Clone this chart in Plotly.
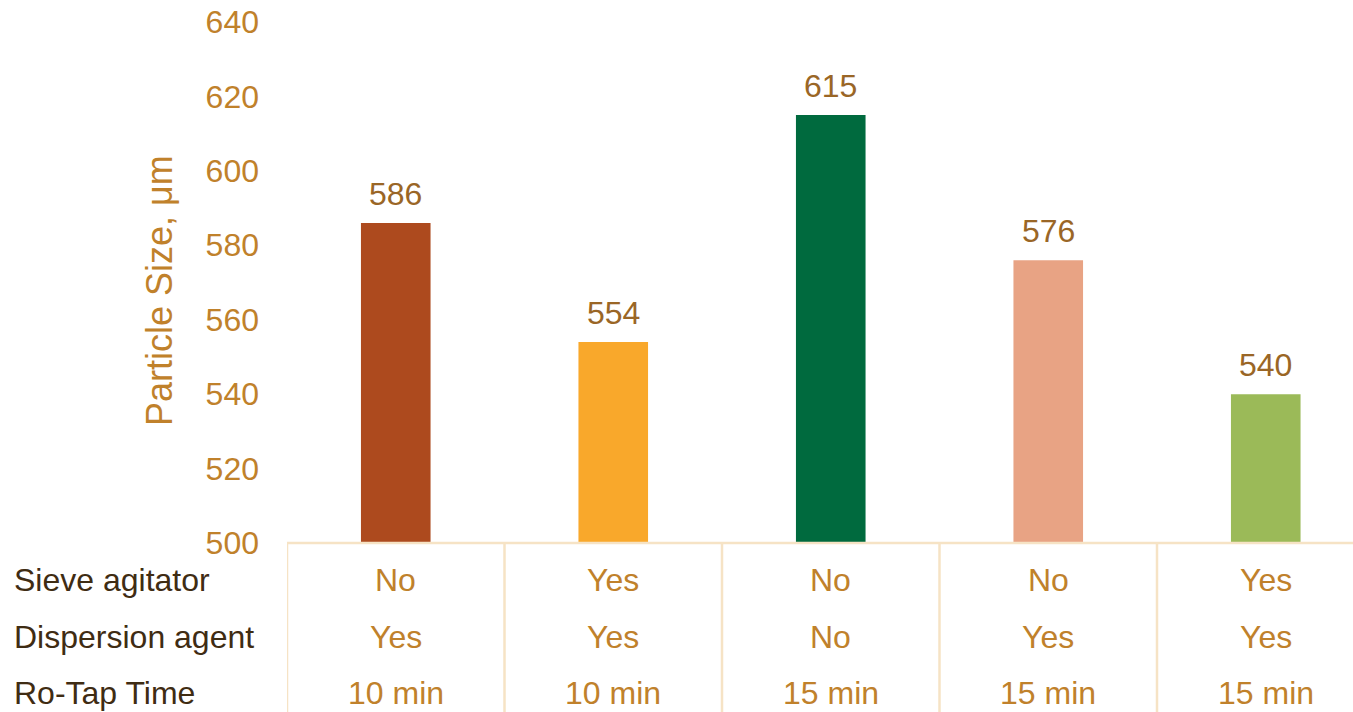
import plotly.graph_objects as go

categories = ["C1", "C2", "C3", "C4", "C5"]
particle_size = [586, 554, 615, 576, 540]
bar_colors = ["#AD4A1E", "#F9A82B", "#006A3E", "#E8A384", "#9BBA58"]
row_labels = ["Sieve agitator", "Dispersion agent", "Ro-Tap Time"]
sieve_agitator = ["No", "Yes", "No", "No", "Yes"]
dispersion_agent = ["Yes", "Yes", "No", "Yes", "Yes"]
rotap_time = ["10 min", "10 min", "15 min", "15 min", "15 min"]
y_ticks = [500, 520, 540, 560, 580, 600, 620, 640]

W, H = 1353, 712
# target pixel positions of the plot area
PLOT_L, PLOT_T, PLOT_B, PLOT_R = 287, 22, 543, 1353
ML, MT, MB, MR = PLOT_L, PLOT_T, H - PLOT_B, W - PLOT_R
plot_h = H - MT - MB
plot_w = W - ML - MR

FONT = "Liberation Sans, Arial, sans-serif"
TICK_COLOR = "#C0812B"
VAL_COLOR = "#9A6626"
ROW_COLOR = "#3F2C13"
LINE_COLOR = "#F6E3C5"

xs = list(range(len(categories)))

fig = go.Figure()
fig.add_trace(go.Bar(
    x=xs, y=particle_size, marker=dict(color=bar_colors, line=dict(width=0)),
    width=0.32, hoverinfo="skip", showlegend=False,
))

annotations = []
for x, v in zip(xs, particle_size):
    annotations.append(dict(x=x, y=v, xref="x", yref="y", text=str(v), showarrow=False,
                            yanchor="bottom", yshift=9,
                            font=dict(family=FONT, size=32, color=VAL_COLOR)))

def py(page_y):
    return (PLOT_B - page_y) / plot_h

def px(page_x):
    return (page_x - PLOT_L) / plot_w

row_y = [py(580), py(637), py(693)]
for ry, label, vals in zip(row_y, row_labels, [sieve_agitator, dispersion_agent, rotap_time]):
    annotations.append(dict(x=px(12), y=ry, xref="paper", yref="paper", text=label,
                            showarrow=False, xanchor="left", yanchor="middle",
                            font=dict(family=FONT, size=32, color=ROW_COLOR)))
    for x, t in zip(xs, vals):
        annotations.append(dict(x=x, y=ry, xref="x", yref="paper", text=t, showarrow=False,
                                xanchor="center", yanchor="middle",
                                font=dict(family=FONT, size=32, color=TICK_COLOR)))

annotations.append(dict(x=px(159), y=py(291), xref="paper", yref="paper",
                        text="Particle Size, μm", textangle=-90, showarrow=False,
                        xanchor="center", yanchor="middle",
                        font=dict(family=FONT, size=36, color=TICK_COLOR)))

shapes = []
bottom = -(MB + 20) / plot_h
shapes.append(dict(type="line", xref="paper", yref="paper", x0=0, x1=1, y0=0, y1=0,
                   line=dict(color=LINE_COLOR, width=2.5)))
for i in range(len(categories)):
    shapes.append(dict(type="line", xref="x", yref="paper", x0=i - 0.5, x1=i - 0.5,
                       y0=0, y1=bottom, line=dict(color=LINE_COLOR, width=2.5)))

fig.update_layout(
    width=W, height=H,
    margin=dict(l=ML, r=MR, t=MT, b=MB, pad=0),
    paper_bgcolor="white", plot_bgcolor="white",
    xaxis=dict(range=[-0.5, -0.5 + plot_w / 217.5], showticklabels=False, showgrid=False,
               zeroline=False, showline=False, fixedrange=True),
    yaxis=dict(range=[500, 640], tickvals=y_ticks, showgrid=False, zeroline=False,
               showline=False, ticks="", ticklabelstandoff=27, ticklabeloverflow="allow",
               tickfont=dict(family=FONT, size=32, color=TICK_COLOR), fixedrange=True),
    annotations=annotations, shapes=shapes,
)

fig.write_html(
    "out.html",
    config={"displayModeBar": False, "staticPlot": True},
    post_script="document.body.style.margin='0';document.body.style.overflow='hidden';",
)
